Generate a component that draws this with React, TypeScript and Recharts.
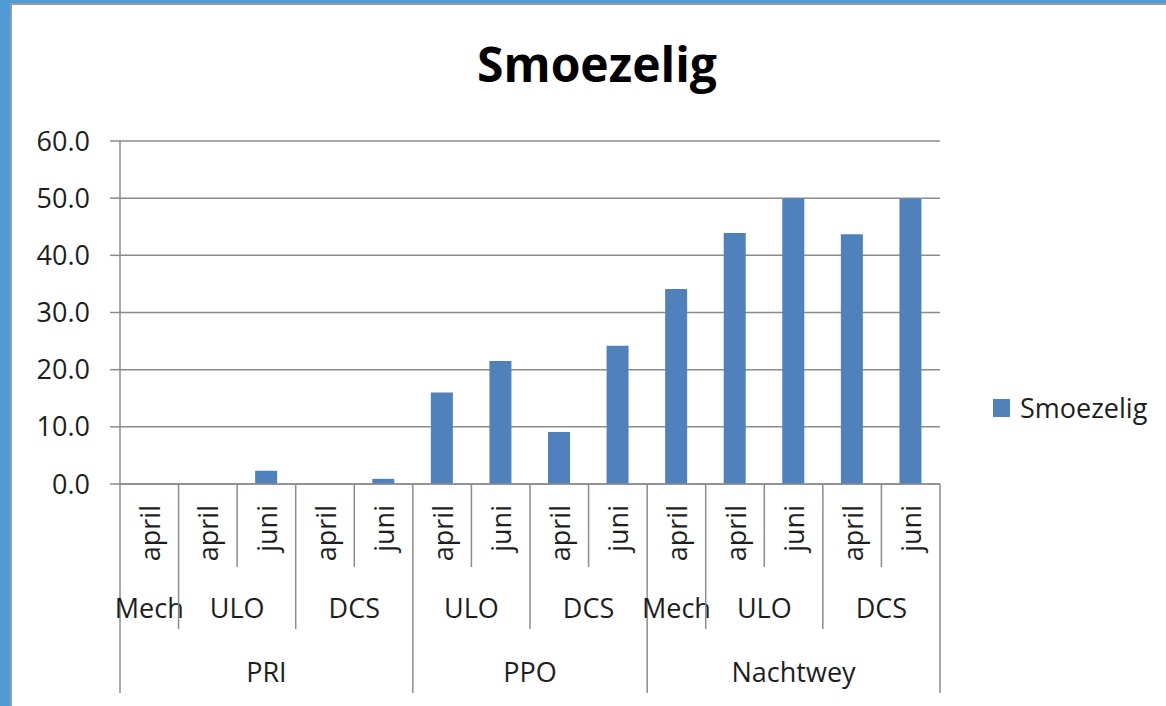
import React from 'react';
import { BarChart, Bar, XAxis, YAxis, CartesianGrid, Legend } from 'recharts';

const months = ['april', 'april', 'juni', 'april', 'juni', 'april', 'juni', 'april', 'juni', 'april', 'april', 'juni', 'april', 'juni'];
const storage = ['Mech', 'ULO', 'ULO', 'DCS', 'DCS', 'ULO', 'ULO', 'DCS', 'DCS', 'Mech', 'ULO', 'ULO', 'DCS', 'DCS'];
const growers = ['PRI', 'PRI', 'PRI', 'PRI', 'PRI', 'PPO', 'PPO', 'PPO', 'PPO', 'Nachtwey', 'Nachtwey', 'Nachtwey', 'Nachtwey', 'Nachtwey'];
const values = [0, 0, 2.3, 0, 0.9, 16.0, 21.5, 9.1, 24.2, 34.1, 43.9, 50.0, 43.7, 49.9];
const yTicks = [0, 10, 20, 30, 40, 50, 60];
const seriesName = 'Smoezelig';

const data = months.map((m, i) => ({ key: i, month: m, storage: storage[i], grower: growers[i], value: values[i] }));

const FONT = '"Open Sans", "Noto Sans", sans-serif';
const GRID = '#8c8c8c';
const BAR = '#4f81bd';
const TEXT = '#1e1e1e';
const CHART_W = 1166;
const PLOT_W = 820;
const LEGEND_W = 180;

const groupKey = (i: number) => growers[i] + '|' + storage[i];

const MultiTick = (props: any) => {
  const { x, y, payload } = props;
  const i: number = payload.index ?? payload.value;
  const half = payload.offset || PLOT_W / months.length / 2;
  const left = x - half;
  let depth = 83;
  if (i === 0 || growers[i] !== growers[i - 1]) depth = 209;
  else if (groupKey(i) !== groupKey(i - 1)) depth = 145;

  const parts: React.ReactNode[] = [];
  parts.push(<line key="l" x1={left} x2={left} y1={y} y2={y + depth} stroke={GRID} strokeWidth={1.5} />);
  if (i === months.length - 1) {
    parts.push(<line key="r" x1={x + half} x2={x + half} y1={y} y2={y + 209} stroke={GRID} strokeWidth={1.5} />);
  }
  parts.push(
    <text key="m" x={x} y={y + 21} transform={`rotate(-90 ${x} ${y + 21})`} textAnchor="end" dominantBaseline="central"
      fontSize={27} fontFamily={FONT} fill={TEXT}>{months[i]}</text>
  );
  if (i === 0 || groupKey(i) !== groupKey(i - 1)) {
    let n = 1;
    while (i + n < months.length && groupKey(i + n) === groupKey(i)) n++;
    parts.push(
      <text key="s" x={left + n * half} y={y + 123} textAnchor="middle" dominantBaseline="central"
        fontSize={27} fontFamily={FONT} fill={TEXT}>{storage[i]}</text>
    );
  }
  if (i === 0 || growers[i] !== growers[i - 1]) {
    let n = 1;
    while (i + n < months.length && growers[i + n] === growers[i]) n++;
    parts.push(
      <text key="g" x={left + n * half} y={y + 187} textAnchor="middle" dominantBaseline="central"
        fontSize={27} fontFamily={FONT} fill={TEXT}>{growers[i]}</text>
    );
  }
  return <g>{parts}</g>;
};

const LegendBox = () => (
  <div style={{ display: 'flex', alignItems: 'center', fontFamily: FONT, fontSize: 27, color: TEXT }}>
    <span style={{ display: 'inline-block', width: 17, height: 18, background: BAR, marginRight: 10 }} />
    <span>{seriesName}</span>
  </div>
);

export default function App() {
  return (
    <div style={{ position: 'absolute', left: 0, top: 0, width: CHART_W, height: 706, background: '#4f9bd7', overflow: 'hidden' }}>
      <div style={{ position: 'absolute', left: 10, top: 3, width: CHART_W, height: 720, background: '#fff', borderLeft: '2px solid #9a9a9a', borderTop: '2px solid #9a9a9a' }} />
      <div style={{ position: 'absolute', left: 0, top: 0 }}>
        {/* the legend's width is taken off the right side of the plot, so the right margin leaves it out */}
        <BarChart width={CHART_W} height={706} data={data} margin={{ top: 141, right: 226 - LEGEND_W, left: 10, bottom: 12 }}>
          <CartesianGrid vertical={false} stroke={GRID} strokeWidth={1.5} />
          <XAxis dataKey="key" height={210} interval={0} tickLine={false} tickSize={0} tickMargin={0}
            axisLine={{ stroke: GRID, strokeWidth: 1.5 }} tick={<MultiTick />} />
          <YAxis width={110} domain={[0, 60]} ticks={yTicks} interval={0} tickFormatter={(v: number) => v.toFixed(1)}
            axisLine={{ stroke: GRID, strokeWidth: 1.5 }} tickLine={{ stroke: GRID, strokeWidth: 1.5 }} tickSize={10} tickMargin={20}
            tick={{ fontSize: 27, fontFamily: FONT, fill: TEXT }} />
          <Legend layout="horizontal" verticalAlign="middle" align="right" content={<LegendBox />}
            wrapperStyle={{ position: 'absolute', left: 993, top: 389, width: LEGEND_W }} />
          <Bar dataKey="value" name={seriesName} fill={BAR} barSize={22} isAnimationActive={false} />
        </BarChart>
      </div>
      <div style={{ position: 'absolute', left: 0, top: 34, width: 1194, textAlign: 'center', fontFamily: FONT, fontWeight: 700, fontSize: 48, lineHeight: '60px', color: '#000' }}>
        {seriesName}
      </div>
    </div>
  );
}
